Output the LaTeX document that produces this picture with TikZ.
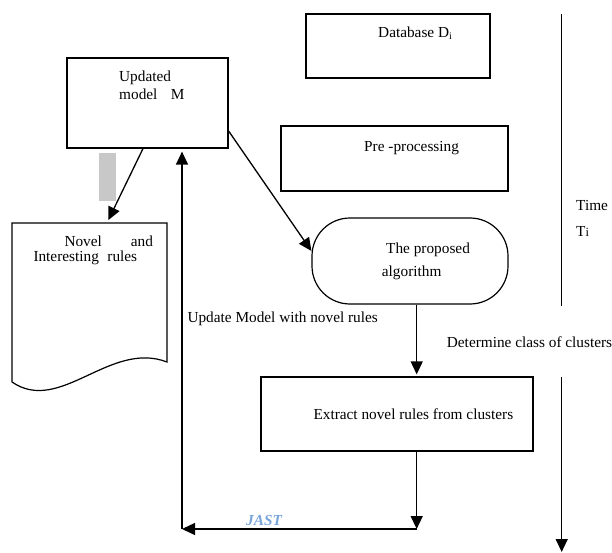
\documentclass[tikz,border=0pt]{standalone}
\usepackage{fontspec}
\setmainfont{Liberation Serif}
\usetikzlibrary{arrows.meta}
\definecolor{jast}{RGB}{120,165,220}
\definecolor{shade}{RGB}{200,200,200}
\begin{document}
\begin{tikzpicture}[x=1pt,y=-1pt,
 box/.style={draw,line width=1.2pt,inner sep=0pt},
 txt/.style={anchor=base west,inner sep=0pt,font=\fontsize{15.3}{18}\selectfont},
 conn/.style={line width=1.3pt,-{Triangle[length=13pt,width=12pt]}},
 tline/.style={line width=1.3pt}]
\useasboundingbox (0,0) rectangle (612,553);
% boxes
\node[box,minimum width=184pt,minimum height=64pt] (db) at (398,46) {};
\node[box,minimum width=227pt,minimum height=65pt] (pre) at (394.5,158.5) {};
\node[box,minimum width=161pt,minimum height=90pt] (upd) at (147.5,103) {};
\node[box,minimum width=196pt,minimum height=86pt,rounded corners=38pt] (alg) at (410,261) {};
\node[box,minimum width=272pt,minimum height=74pt] (ext) at (397,414) {};
\node[fill=shade,minimum width=16.7pt,minimum height=48.3pt,inner sep=0pt] (gray) at (107.3,176.9) {};
% document shape
\node[inner sep=0pt,minimum width=155pt,minimum height=159pt] (novel) at (89.5,302.5) {};
\draw[line width=1.2pt] (12,382) -- (12,223) -- (167,223) -- (167,362)
  .. controls (110,340) and (60,415) .. (12,382);
% texts
\node[txt] (tdb) at (378,37.5) {Database D\raisebox{-2pt}{\fontsize{10}{10}\selectfont i}};
\node[txt] (tpre) at (364,151.5) {Pre -processing};
\node[txt] (tupd1) at (119,82) {Updated};
\node[txt] (tupd2) at (119,100) {model\hspace{13.5pt}M};
\node[txt] (tnov1) at (64.3,246.5) {Novel\hspace{29pt}and};
\node[txt] (tnov2) at (33.3,261) {Interesting\hspace{8.5pt}rules};
\node[txt] (talg1) at (386,253.8) {The proposed};
\node[txt] (talg2) at (381.7,276) {algorithm};
\node[txt] (tupdm) at (187.3,322.7) {Update Model with novel rules};
\node[txt] (tdet) at (446.7,347.7) {Determine class of clusters};
\node[txt] (text) at (313.3,419) {Extract novel rules from clusters};
\node[txt,font=\fontsize{15.3}{18}\selectfont\bfseries\itshape,text=jast] (tjast) at (246,525) {JAST};
\node[txt] (ttime) at (576,210.7) {Time};
\node[txt] (tti) at (576,236.7) {T{\fontsize{12.5}{14}\selectfont i}};
% connectors
\draw[conn,shorten >=3pt] (upd.south -| 143,0) -- (novel.north -| 107,0);
\draw[conn] (upd.east |- 0,131) -- (alg.west |- 0,251);
\draw[conn,shorten >=2pt] (alg.south -| 416.7,0) -- (ext.north -| 416.7,0);
\coordinate (c1) at (416.7,529);
\coordinate (c2) at (182,529);
\draw[conn] (ext.south -| 416.7,0) -- (c1);
\draw[conn] (c1) -- (c2);
\draw[conn,shorten >=3pt] (c2) -- (upd.south -| 182,0);
% time axis
\coordinate (ttop) at (561.5,14);
\coordinate (tmid) at (561.5,306);
\coordinate (tb1) at (561.7,377);
\coordinate (tb2) at (561.7,552);
\draw[tline] (ttop) -- (tmid);
\draw[conn] (tb1) -- (tb2);
\end{tikzpicture}
\end{document}
